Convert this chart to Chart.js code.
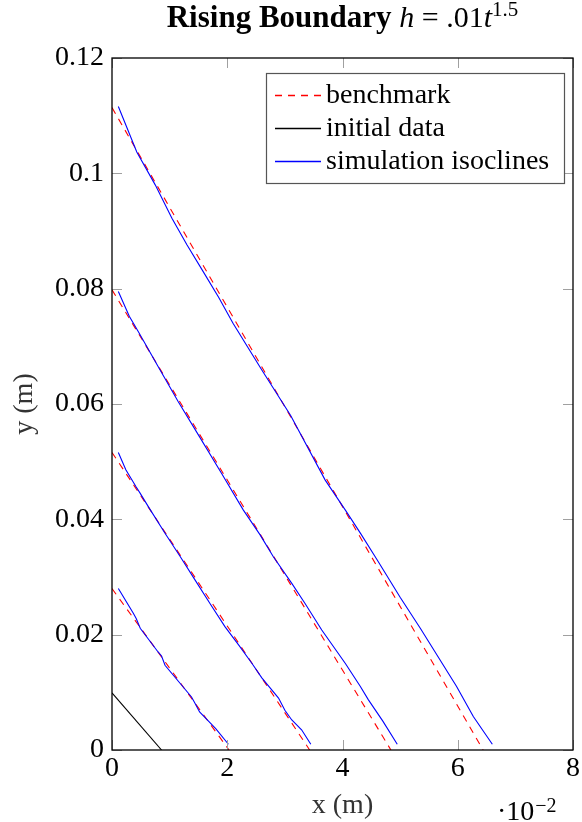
<!DOCTYPE html>
<html><head><meta charset="utf-8">
<script src="https://cdn.jsdelivr.net/npm/chart.js@4/dist/chart.umd.min.js"></script>
<style>html,body{margin:0;padding:0;background:#fff}</style>
</head><body>
<canvas id="c" width="582" height="822" style="width:582px;height:822px;display:block"></canvas>
<script>
// ---------- data ----------
const titleBold = 'Rising Boundary ';
const titleMath = ['h', ' = .01', 't', '1.5'];
const xAxisLabel = 'x (m)';
const yAxisLabel = 'y (m)';
const xScaleNote = ['\u00b710', '\u22122'];
const xTickLabels = ['0', '2', '4', '6', '8'];
const yTickLabels = ['0', '0.02', '0.04', '0.06', '0.08', '0.1', '0.12'];
const legendLabels = ['benchmark', 'initial data', 'simulation isoclines'];

const initialX = [0, 0.86];
const initialY = [0.0099, 0];

const bench1X = [0, 2.03];
const bench1Y = [0.0280, 0];
const bench2X = [0, 3.43];
const bench2Y = [0.0516, 0];
const bench3X = [0, 4.84];
const bench3Y = [0.0798, 0];
const bench4X = [0, 6.44];
const bench4Y = [0.1114, 0];

const sim1X = [0.11, 0.37, 0.42, 0.49, 0.80, 0.86, 0.92, 1.38, 1.44, 1.52, 1.80, 2.02];
const sim1Y = [0.0280, 0.0237, 0.0228, 0.0211, 0.0170, 0.0163, 0.0147, 0.0092, 0.0081, 0.0066, 0.0037, 0.0010];
const sim2X = [0.11, 0.24, 0.42, 0.49, 0.63, 0.92, 1.18, 1.44, 1.70, 1.96, 2.20, 2.43, 2.60, 2.89, 3.00, 3.12, 3.29, 3.45];
const sim2Y = [0.0516, 0.0486, 0.0456, 0.0445, 0.0422, 0.0376, 0.0336, 0.0295, 0.0254, 0.0214, 0.0182, 0.0150, 0.0125, 0.0090, 0.0069, 0.0052, 0.0035, 0.0010];
const sim3X = [0.11, 0.30, 0.46, 0.80, 1.15, 1.52, 1.90, 2.28, 2.57, 2.80, 3.12, 3.35, 3.64, 4.05, 4.31, 4.45, 4.70, 4.95];
const sim3Y = [0.0795, 0.0752, 0.0725, 0.0665, 0.0604, 0.0543, 0.0480, 0.0416, 0.0373, 0.0335, 0.0289, 0.0254, 0.0208, 0.0150, 0.0110, 0.0087, 0.0050, 0.0010];
const sim4X = [0.11, 0.43, 0.75, 1.04, 1.30, 1.58, 1.85, 2.10, 2.60, 3.10, 3.70, 4.05, 4.31, 4.60, 5.00, 5.35, 5.98, 6.27, 6.60];
const sim4Y = [0.1116, 0.1037, 0.0980, 0.0922, 0.0876, 0.0830, 0.0785, 0.0740, 0.0659, 0.0580, 0.0468, 0.0416, 0.0376, 0.0330, 0.0265, 0.0211, 0.0110, 0.0058, 0.0010];

// ---------- styling / build ----------
const SERIF = "'Liberation Serif', 'DejaVu Serif', serif";
const RED = '#ff0000', BLUE = '#0000ff', BLACK = '#000000';
const zip = (xs, ys) => xs.map((x, i) => ({x: x, y: ys[i]}));

function line(xs, ys, color, dash, order, legendIdx) {
  return {
    label: legendIdx != null ? legendLabels[legendIdx] : '',
    legendEntry: legendIdx != null,
    data: zip(xs, ys),
    showLine: true,
    borderColor: color,
    backgroundColor: color,
    borderWidth: 1.1,
    borderDash: dash,
    pointRadius: 0,
    fill: false,
    tension: 0,
    order: order
  };
}

const datasets = [
  line(bench1X, bench1Y, RED, [7, 6], 3, 0),
  line(bench2X, bench2Y, RED, [7, 6], 3),
  line(bench3X, bench3Y, RED, [7, 6], 3),
  line(bench4X, bench4Y, RED, [7, 6], 3),
  line(initialX, initialY, BLACK, [], 2, 1),
  line(sim1X, sim1Y, BLUE, [], 1, 2),
  line(sim2X, sim2Y, BLUE, [], 1),
  line(sim3X, sim3Y, BLUE, [], 1),
  line(sim4X, sim4Y, BLUE, [], 1)
];

const framePlugin = {
  id: 'frameTicks',
  afterDraw(chart) {
    const ctx = chart.ctx, a = chart.chartArea;
    const xs = chart.scales.x, ys = chart.scales.y;
    const TL = 10;
    ctx.save();
    ctx.strokeStyle = '#a0a0a0';
    ctx.lineWidth = 1;
    ctx.beginPath();
    xs.ticks.forEach(t => {
      const px = Math.round(xs.getPixelForValue(t.value)) + 0.5;
      ctx.moveTo(px, a.bottom); ctx.lineTo(px, a.bottom - TL);
      ctx.moveTo(px, a.top); ctx.lineTo(px, a.top + TL);
    });
    ys.ticks.forEach(t => {
      const py = Math.round(ys.getPixelForValue(t.value)) + 0.5;
      ctx.moveTo(a.left, py); ctx.lineTo(a.left + TL, py);
      ctx.moveTo(a.right, py); ctx.lineTo(a.right - TL, py);
    });
    ctx.stroke();
    ctx.strokeStyle = '#000';
    ctx.lineWidth = 1.3;
    ctx.strokeRect(a.left, a.top, a.right - a.left, a.bottom - a.top);
    ctx.restore();
  }
};

const titlePlugin = {
  id: 'mathTitle',
  afterDraw(chart) {
    const ctx = chart.ctx, a = chart.chartArea;
    const parts = [
      {t: titleBold, f: 'bold 31px ' + SERIF, dy: 0},
      {t: titleMath[0], f: 'italic 30px ' + SERIF, dy: 0},
      {t: titleMath[1], f: '30px ' + SERIF, dy: 0},
      {t: titleMath[2], f: 'italic 30px ' + SERIF, dy: 0},
      {t: titleMath[3], f: '21px ' + SERIF, dy: -11}
    ];
    ctx.save();
    let total = 0;
    parts.forEach(p => { ctx.font = p.f; p.w = ctx.measureText(p.t).width; total += p.w; });
    let x = (a.left + a.right) / 2 - total / 2;
    const base = 27;
    ctx.fillStyle = '#000';
    ctx.textBaseline = 'alphabetic';
    ctx.textAlign = 'left';
    parts.forEach(p => { ctx.font = p.f; ctx.fillText(p.t, x, base + p.dy); x += p.w; });

    // x scale multiplier note
    let nx = a.right - 76;
    ctx.font = '28px ' + SERIF;
    ctx.fillText(xScaleNote[0], nx, 820);
    nx += ctx.measureText(xScaleNote[0]).width + 1;
    ctx.font = '20px ' + SERIF;
    ctx.fillText(xScaleNote[1], nx, 812);
    ctx.restore();
  }
};

const legendPlugin = {
  id: 'boxLegend',
  afterDraw(chart) {
    const ctx = chart.ctx, a = chart.chartArea;
    const items = chart.data.datasets.filter(d => d.legendEntry);
    const W = 298, H = 110;
    const left = a.right - 9 - W, top = a.top + 15;
    ctx.save();
    ctx.fillStyle = '#fff';
    ctx.fillRect(left, top, W, H);
    ctx.strokeStyle = '#555';
    ctx.lineWidth = 1.2;
    ctx.strokeRect(left + 0.5, top + 0.5, W, H);
    ctx.font = '28px ' + SERIF;
    ctx.textBaseline = 'middle';
    ctx.textAlign = 'left';
    items.forEach((d, i) => {
      const cy = Math.round(top + 22 + i * 33) + 0.5;
      ctx.strokeStyle = d.borderColor;
      ctx.lineWidth = 1.5;
      ctx.setLineDash(d.borderDash || []);
      ctx.beginPath();
      ctx.moveTo(left + 9, cy); ctx.lineTo(left + 55, cy);
      ctx.stroke();
      ctx.setLineDash([]);
      ctx.fillStyle = '#000';
      ctx.fillText(d.label, left + 60, cy);
    });
    ctx.restore();
  }
};

const tickFont = {family: SERIF, size: 28, lineHeight: 1.2};

new Chart(document.getElementById('c'), {
  type: 'scatter',
  data: {datasets: datasets},
  options: {
    responsive: false,
    animation: false,
    devicePixelRatio: 1,
    layout: {padding: {top: 58, right: 9, left: 0, bottom: 0}},
    plugins: {legend: {display: false}, tooltip: {enabled: false}, title: {display: false}},
    scales: {
      x: {
        type: 'linear', position: 'bottom', min: 0, max: 8,
        ticks: {stepSize: 2, padding: 2, color: '#000', font: tickFont, autoSkip: false, maxRotation: 0,
          callback: (v, i) => xTickLabels[i] !== undefined ? xTickLabels[i] : v},
        grid: {display: false, drawTicks: false},
        border: {display: false},
        title: {display: true, text: xAxisLabel, color: '#333', font: tickFont, padding: {top: 0, bottom: 0}},
        afterFit(s) { s.height = 72; }
      },
      y: {
        type: 'linear', position: 'left', min: 0, max: 0.12,
        ticks: {stepSize: 0.02, padding: 8, color: '#000', font: tickFont, autoSkip: false,
          callback: (v, i) => yTickLabels[i] !== undefined ? yTickLabels[i] : v},
        grid: {display: false, drawTicks: false},
        border: {display: false},
        title: {display: true, text: yAxisLabel, color: '#333', font: tickFont, padding: {top: 8, bottom: 0}},
        afterFit(s) { s.width = 112; }
      }
    }
  },
  plugins: [framePlugin, titlePlugin, legendPlugin]
});
</script>
</body></html>
